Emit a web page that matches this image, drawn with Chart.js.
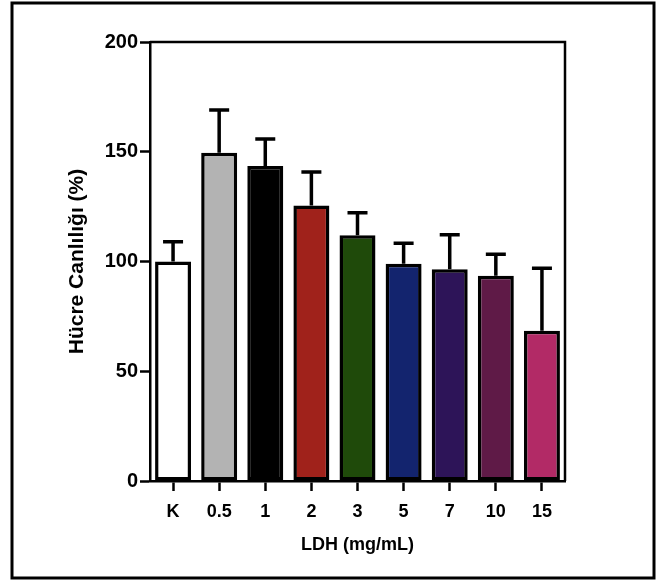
<!DOCTYPE html>
<html>
<head>
<meta charset="utf-8">
<script src="https://cdn.jsdelivr.net/npm/chart.js@4"></script>
<style>
  body { margin: 0; background: #fff; }
  canvas { display: block; }
</style>
</head>
<body>
<canvas id="myChart" width="660" height="581"></canvas>
<script>
let doses = ["K", "0.5", "1", "2", "3", "5", "7", "10", "15"];
let viability = [100, 149.5, 143.5, 125.5, 112, 99, 96.5, 93.5, 68.5];
let viabilitySd = [9, 19.5, 12.3, 15.3, 10.2, 9.3, 15.7, 9.8, 28.4];
let barColors = ["#ffffff", "#b3b3b3", "#000000", "#a0221b", "#1f4a0a", "#13246e", "#2d1458", "#5f1a47", "#b22a66"];
let yTicks = [0, 50, 100, 150, 200];

Chart.defaults.font.family = "'Liberation Sans', Arial, sans-serif";
Chart.defaults.color = "#000";

// white page + outer frame, plot box top/right
var framePlugin = {
  id: "frame",
  beforeDraw(chart) {
    let c = chart.ctx;
    c.save();
    c.fillStyle = "#fff";
    c.fillRect(0, 0, chart.width, chart.height);
    c.strokeStyle = "#000";
    c.lineWidth = 3;
    c.strokeRect(12, 3, 642, 575);
    c.restore();
  },
  afterDraw(chart) {
    let c = chart.ctx, a = chart.chartArea;
    c.save();
    c.strokeStyle = "#000";
    c.lineWidth = 2.5;
    c.beginPath();
    c.moveTo(a.left, a.top);
    c.lineTo(a.right, a.top);
    c.lineTo(a.right, a.bottom);
    c.stroke();
    c.restore();
  }
};

// upper error bars (SD)
var errorBarPlugin = {
  id: "errorBars",
  afterDatasetsDraw(chart) {
    let c = chart.ctx, y = chart.scales.y;
    c.save();
    c.strokeStyle = "#000";
    c.lineWidth = 3.5;
    chart.getDatasetMeta(0).data.forEach((bar, i) => {
      let top = y.getPixelForValue(viability[i]);
      let end = y.getPixelForValue(viability[i] + viabilitySd[i]);
      c.beginPath();
      c.moveTo(bar.x, top);
      c.lineTo(bar.x, end);
      c.moveTo(bar.x - 10, end);
      c.lineTo(bar.x + 10, end);
      c.stroke();
    });
    c.restore();
  }
};

var ctx = document.getElementById("myChart").getContext("2d");
var myChart = new Chart(ctx, {
  type: "bar",
  data: {
    labels: doses,
    datasets: [{
      data: viability,
      backgroundColor: barColors,
      borderColor: "#000",
      borderWidth: 3.5,
      borderSkipped: false,
      barPercentage: 0.78,
      categoryPercentage: 1
    }]
  },
  options: {
    responsive: false,
    animation: false,
    layout: { padding: { top: 42, right: 95, left: 0, bottom: 0 } },
    plugins: { legend: { display: false }, tooltip: { enabled: false } },
    scales: {
      x: {
        afterFit(s) { s.height = 100; },
        grid: { offset: false, drawOnChartArea: false, tickLength: 10, tickWidth: 2.5, tickColor: "#000" },
        border: { color: "#000", width: 2.5 },
        ticks: { font: { size: 18, weight: "bold" }, padding: 10 },
        title: { display: true, text: "LDH (mg/mL)", font: { size: 18, weight: "bold" }, padding: { top: 0, bottom: 25 } }
      },
      y: {
        min: 0,
        max: 200,
        afterFit(s) { s.width = 150; },
        afterBuildTicks(s) { s.ticks = yTicks.map((v) => ({ value: v })); },
        grid: { drawOnChartArea: false, tickLength: 10, tickWidth: 2.5, tickColor: "#000" },
        border: { color: "#000", width: 2.5 },
        ticks: { font: { size: 20, weight: "bold" }, padding: 2 },
        title: { display: true, text: "Hücre Canlılığı (%)", font: { size: 21, weight: "bold" }, padding: { top: 65, bottom: 0 } }
      }
    }
  },
  plugins: [framePlugin, errorBarPlugin]
});
</script>
</body>
</html>
